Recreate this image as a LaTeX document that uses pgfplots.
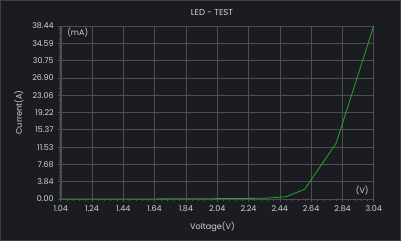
\documentclass[border=0pt]{standalone}
\usepackage{pgfplots}
\pgfplotsset{compat=1.18}
\usepackage{fontspec}
\setmainfont{Poppins}
\definecolor{bgc}{RGB}{27,28,34}
\definecolor{gridc}{RGB}{78,78,82}
\definecolor{txtc}{RGB}{212,212,212}
\definecolor{framec}{RGB}{62,62,68}
\definecolor{linec}{RGB}{40,165,40}
\begin{document}
\begin{tikzpicture}[x=1bp,y=1bp]
\fill[bgc] (0,0) rectangle (401,241);
\draw[framec,line width=1bp] (0.5,0.5) rectangle (400.5,240.5);
\useasboundingbox (0,0) rectangle (401,241);
\node[txtc,font=\fontsize{8.6}{10}\selectfont] at (212,228.5) {LED - TEST};
\begin{axis}[
  at={(60.7bp,42bp)}, anchor=south west,
  width=313bp, height=173bp, scale only axis,
  xmin=1.04, xmax=3.04, ymin=0, ymax=38.435,
  axis line style={gridc},
  axis x line*=bottom, axis y line*=left,
  xtick={1.04,1.24,1.44,1.64,1.84,2.04,2.24,2.44,2.64,2.84,3.04},
  xticklabels={1.04,1.24,1.44,1.64,1.84,2.04,2.24,2.44,2.64,2.84,3.04},
  ytick={0,3.8435,7.687,11.5305,15.374,19.2175,23.061,26.9045,30.748,34.5915,38.435},
  yticklabels={0.00,3.84,7.68,11.53,15.37,19.22,23.06,26.90,30.75,34.59,38.44},
  minor x tick num=4, minor y tick num=7,
  tick align=outside,
  major tick length=3bp, minor tick length=2bp,
  tick style={gridc, line width=0.6bp},
  grid=major,
  major grid style={gridc, line width=0.6bp},
  ticklabel style={txtc, font=\fontsize{8}{9}\selectfont},
  xticklabel style={yshift=-0.5bp},
  yticklabel style={xshift=-0.5bp},
  xlabel={Voltage(V)}, ylabel={Current(A)},
  label style={txtc, font=\fontsize{8.2}{9}\selectfont},
  xlabel style={at={(axis description cs:0.485,0)}, anchor=center, yshift=-28bp},
  ylabel style={at={(axis description cs:0,0.5)}, anchor=center, yshift=42bp},
  clip=false,
]
\draw[gridc, line width=0.6bp] (axis cs:3.04,0) -- (axis cs:3.04,38.435);
\draw[gridc, line width=0.6bp] (axis cs:1.04,38.435) -- (axis cs:3.04,38.435);
\addplot[linec, line width=0.8bp] coordinates {
(1.04,0) (1.24,0) (1.44,0) (1.64,0.02) (1.84,0.05) (2.04,0.08) (2.24,0.12) (2.36,0.2) (2.48,0.5) (2.60,2.2) (2.80,12.4) (3.04,38.435)
};
\node[txtc, font=\fontsize{8}{9}\selectfont, anchor=west] at (axis description cs:0.01,0.96) {(mA)};
\node[txtc, font=\fontsize{8}{9}\selectfont, anchor=east] at (axis description cs:0.995,0.05) {(V)};
\end{axis}
\end{tikzpicture}
\end{document}
